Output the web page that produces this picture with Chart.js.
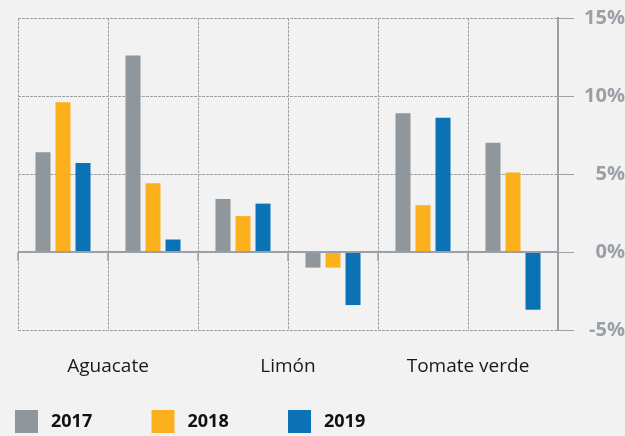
<!DOCTYPE html>
<html><head><meta charset="utf-8">
<script src="https://cdn.jsdelivr.net/npm/chart.js@4"></script>
<style>html,body{margin:0;padding:0;background:#f2f2f2;}canvas{display:block;}</style>
</head><body>
<canvas id="c" width="625" height="436"></canvas>
<script>
const categories = ['Aguacate','Aguacate','Limón','Limón','Tomate verde','Tomate verde'];
const groupLabels = ['Aguacate','Limón','Tomate verde'];
const seriesNames = ['2017','2018','2019'];
const series2017 = [6.4, 12.6, 3.4, -1.0, 8.9, 7.0];
const series2018 = [9.6, 4.4, 2.3, -1.0, 3.0, 5.1];
const series2019 = [5.7, 0.8, 3.1, -3.4, 8.6, -3.7];
const yTickValues = [-5, 0, 5, 10, 15];
const colors = ['#8f969c', '#fbb01c', '#0a72b5'];

const gridColor = '#9ca1a6';
const axisColor = '#9aa0a5';

const overlay = {
  id: 'overlay',
  afterDatasetsDraw(chart) {
    const {ctx, chartArea: a, scales: {x, y}} = chart;
    const y0 = y.getPixelForValue(0);
    const step = x.getPixelForValue(1) - x.getPixelForValue(0);
    ctx.save();
    ctx.strokeStyle = axisColor;
    ctx.lineWidth = 2;
    ctx.beginPath(); ctx.moveTo(a.left, y0); ctx.lineTo(a.right, y0); ctx.stroke();
    ctx.lineWidth = 1.5;
    for (let i = 0; i < categories.length; i++) {
      const bx = x.getPixelForValue(i) - step / 2;
      ctx.beginPath(); ctx.moveTo(bx, y0); ctx.lineTo(bx, y0 + 9); ctx.stroke();
    }
    ctx.restore();
  },
  afterDraw(chart) {
    const ctx = chart.ctx;
    ctx.save();
    ctx.font = 'bold 18px "Open Sans"';
    ctx.textBaseline = 'middle';
    ctx.textAlign = 'left';
    chart.data.datasets.forEach((ds, i) => {
      const bx = 15 + i * 136.5;
      ctx.fillStyle = ds.backgroundColor;
      ctx.fillRect(bx, 410, 23, 23);
      ctx.fillStyle = '#111111';
      ctx.fillText(ds.label, bx + 36, 422);
    });
    ctx.restore();
  }
};

new Chart(document.getElementById('c'), {
  type: 'bar',
  data: {
    labels: categories,
    datasets: [
      {label: seriesNames[0], data: series2017, backgroundColor: colors[0]},
      {label: seriesNames[1], data: series2018, backgroundColor: colors[1]},
      {label: seriesNames[2], data: series2019, backgroundColor: colors[2]}
    ]
  },
  options: {
    responsive: false,
    animation: false,
    layout: {padding: {left: 18, top: 18, right: 0, bottom: 56}},
    plugins: {legend: {display: false}, tooltip: {enabled: false}},
    datasets: {bar: {categoryPercentage: 0.667, barPercentage: 0.75}},
    scales: {
      x: {
        type: 'category', position: 'bottom', weight: 0, offset: true,
        grid: {offset: true, color: gridColor, drawTicks: false, lineWidth: 1},
        border: {display: false, dash: [3, 1]},
        ticks: {display: false},
        afterFit(s) { s.height = 0; }
      },
      x2: {
        type: 'category', labels: groupLabels, position: 'bottom', weight: 1, offset: true,
        grid: {display: false}, border: {display: false},
        ticks: {font: {family: 'Open Sans', size: 19}, color: '#1a1a1a', padding: 17, maxRotation: 0, autoSkip: false},
        afterFit(s) { s.height = 50; }
      },
      y: {
        position: 'right', min: -5, max: 15,
        afterBuildTicks(s) { s.ticks = yTickValues.map(v => ({value: v})); },
        ticks: {callback: v => v + '%', font: {family: 'Open Sans', size: 20, weight: 'bold'}, color: axisColor, padding: 4, crossAlign: 'far'},
        grid: {color: gridColor, tickLength: 16},
        border: {display: true, color: axisColor, width: 2, dash: [3, 1]},
        afterFit(s) { s.width = 67; }
      }
    }
  },
  plugins: [overlay]
});
</script>
</body></html>
